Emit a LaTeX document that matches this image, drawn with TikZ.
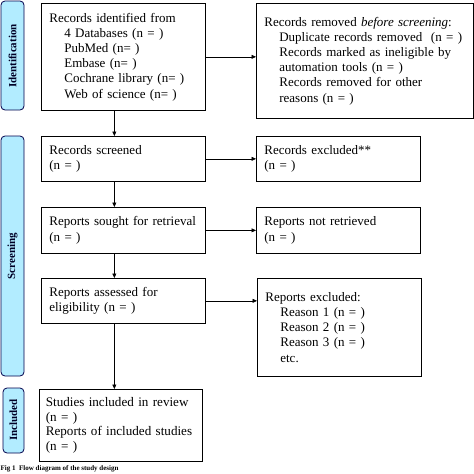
\documentclass[tikz,border=0pt]{standalone}
\usepackage{fontspec}
\setmainfont{Liberation Serif}
\usetikzlibrary{arrows.meta}
\newcommand{\ind}{\hspace*{15pt}}
\tikzset{
  box/.style={draw, line width=0.7pt, anchor=north west, inner xsep=8pt, inner ysep=0pt,
    align=left, font=\fontsize{13}{15.2}\selectfont},
  bar/.style={draw=black!70!blue, line width=0.8pt, fill=blue!25!cyan!30!white, rounded corners=4pt},
  barlabel/.style={rotate=90, font=\fontsize{11}{12}\selectfont\bfseries, text=black!85!blue},
  arr/.style={line width=0.6pt, -{Triangle[length=4.5pt,width=4pt]}}
}
\begin{document}
\begin{tikzpicture}[x=1pt,y=-1pt]
\useasboundingbox (0,0) rectangle (474,474);
% side bars
\draw[bar] (1,1) rectangle (24,110);
\draw[bar] (1,136) rectangle (24,376);
\draw[bar] (3,388) rectangle (24,453);
\node[barlabel] (lid) at (12.5,56) {Identification};
\node[barlabel] (lscr) at (12.5,256) {Screening};
\node[barlabel] (linc) at (13.5,420) {Included};
% boxes
\node[box, text width=148pt, minimum height=107pt] (ident) at (41,3)
  {Records identified from\\ \ind 4 Databases (n = )\\ \ind PubMed (n= )\\ \ind Embase (n= )\\
   \ind Cochrane library (n= )\\ \ind Web of science (n= )};
\node[box, text width=201pt, minimum height=115pt] (removed) at (256,3)
  {Records removed \textit{before screening}:\\ \ind Duplicate records removed~ (n = )\\
   \ind Records marked as ineligible by\\ \ind automation tools (n = )\\
   \ind Records removed for other\\ \ind reasons (n = )};
\node[box, text width=148pt, minimum height=45pt] (screened) at (41,136)
  {Records screened\\ (n = )};
\node[box, text width=148pt, minimum height=45pt] (excluded) at (256,136)
  {Records excluded**\\ (n = )};
\node[box, text width=148pt, minimum height=46pt] (sought) at (41,207)
  {Reports sought for retrieval\\ (n = )};
\node[box, text width=148pt, minimum height=46pt] (notret) at (256,207)
  {Reports not retrieved\\ (n = )};
\node[box, text width=148pt, minimum height=45pt] (assessed) at (41,278)
  {Reports assessed for\\ eligibility (n = )};
\node[box, text width=148pt, minimum height=98pt] (repexcl) at (257,278)
  {Reports excluded:\\ \ind Reason 1 (n = )\\ \ind Reason 2 (n = )\\ \ind Reason 3 (n = )\\ \ind etc.};
\node[box, text width=150pt, inner xsep=6.5pt, minimum height=72pt, font=\fontsize{13.1}{14.6}\selectfont] (included) at (39,389)
  {Studies included in review\\ (n = )\\ Reports of included studies\\ (n = )};
% connectors
\draw[arr] (ident.east) -- (ident.east -| removed.west);
\draw[arr] (screened.east) -- (screened.east -| excluded.west);
\draw[arr] (sought.east) -- (sought.east -| notret.west);
\draw[arr] (assessed.east) -- (assessed.east -| repexcl.west);
\draw[arr] ([xshift=-9pt]ident.south) -- ([xshift=-9pt]screened.north);
\draw[arr] ([xshift=-9pt]screened.south) -- ([xshift=-9pt]sought.north);
\draw[arr] ([xshift=-9pt]sought.south) -- ([xshift=-9pt]assessed.north);
\draw[arr] ([xshift=-9pt]assessed.south) -- ([xshift=-9pt]assessed.south |- included.north);
% caption
\node[anchor=west, inner sep=0pt, font=\fontsize{7}{8}\selectfont\bfseries] (cap) at (0.5,469)
  {Fig 1~ Flow diagram of the study design};
\end{tikzpicture}
\end{document}
